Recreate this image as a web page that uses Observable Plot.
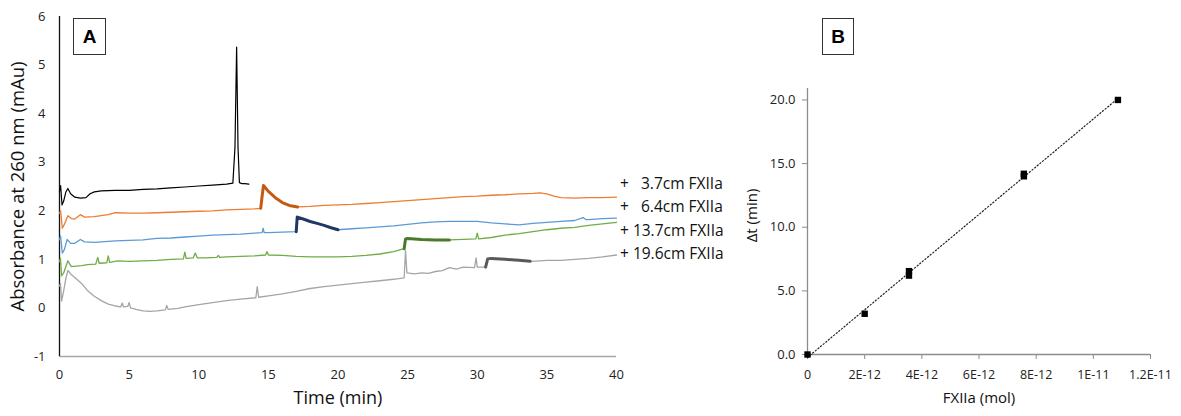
<!DOCTYPE html>
<html>
<head>
<meta charset="utf-8">
<script src="https://cdn.jsdelivr.net/npm/d3@7"></script>
<script src="https://cdn.jsdelivr.net/npm/@observablehq/plot@0.6"></script>
<style>
  html, body { margin: 0; padding: 0; background: #fff; }
  #wrap { position: relative; width: 1181px; height: 416px; font-family: "Open Sans", sans-serif; }
  #panelA { position: absolute; left: 0; top: 0; }
  #panelB { position: absolute; left: 740px; top: 0; }
  .tag { position: absolute; border: 1px solid #333; background: #fff; font-family: "Liberation Sans", Arial, sans-serif; font-weight: bold; font-size: 19px; display: flex; align-items: center; justify-content: center; box-sizing: border-box; }
  #legendA { position: absolute; left: 620px; top: 172px; font-size: 15.5px; line-height: 23.4px; white-space: pre; color: #111; }
</style>
</head>
<body>
<div id="wrap">
  <div id="panelA"></div>
  <div id="panelB"></div>
  <div class="tag" style="left:73px;top:18px;width:33px;height:37px;">A</div>
  <div class="tag" style="left:822px;top:18px;width:32px;height:37px;">B</div>
  <div id="legendA"></div>
</div>
<script>
// ---------- Panel A data: chromatogram traces [time (min), absorbance (mAu)] ----------
const traceBlack = [[0,2.40],[0.08,2.52],[0.18,2.12],[0.3,2.2],[0.45,2.38],[0.6,2.46],[0.8,2.35],[1.1,2.28],[1.5,2.26],[1.9,2.27],[2.2,2.35],[2.5,2.39],[3,2.41],[4,2.42],[5,2.42],[6,2.44],[7,2.45],[8,2.47],[9,2.49],[10,2.51],[11,2.53],[12,2.55],[12.45,2.57],[12.6,3.3],[12.72,5.37],[12.82,3.3],[12.92,2.58],[13.1,2.56],[13.3,2.56],[13.6,2.55]];
const traceOrange = [[0,1.95],[0.08,2.0],[0.2,1.64],[0.35,1.72],[0.6,1.90],[0.85,1.84],[1.1,1.83],[1.5,1.92],[1.8,1.87],[2.5,1.88],[3.5,1.92],[4,1.96],[5,1.95],[6,1.95],[7,1.96],[8,1.97],[9,1.98],[10,1.99],[11,2.00],[12,2.02],[13,2.03],[14,2.04],[14.45,2.05],[14.55,2.3],[14.65,2.52],[15,2.40],[15.5,2.27],[16,2.17],[16.5,2.11],[17.1,2.08],[18,2.09],[19,2.11],[20,2.12],[21,2.13],[22,2.15],[23,2.17],[24,2.19],[25,2.21],[26,2.23],[27,2.25],[28,2.27],[29,2.29],[30,2.30],[31,2.32],[32,2.33],[33,2.35],[34,2.36],[34.5,2.37],[35,2.35],[35.5,2.30],[36,2.27],[37,2.26],[38,2.27],[39,2.27],[40,2.28]];
const traceBlue = [[0,1.40],[0.08,1.48],[0.2,1.13],[0.35,1.2],[0.55,1.41],[0.8,1.33],[1.1,1.33],[1.5,1.41],[1.8,1.36],[2.5,1.35],[3.5,1.37],[4,1.38],[5,1.39],[6,1.40],[7,1.43],[8,1.44],[9,1.46],[10,1.48],[11,1.50],[12,1.51],[13,1.52],[14,1.54],[14.55,1.55],[14.62,1.64],[14.7,1.55],[15,1.55],[16,1.56],[17.0,1.57],[17.07,1.87],[17.5,1.83],[18,1.78],[18.5,1.74],[19,1.70],[19.5,1.65],[20,1.61],[20.5,1.62],[21,1.63],[22,1.65],[23,1.67],[24,1.69],[25,1.72],[26,1.75],[27,1.77],[28,1.78],[29,1.78],[30,1.78],[31,1.75],[32,1.73],[33,1.71],[34,1.74],[35,1.76],[36,1.78],[37,1.80],[37.6,1.86],[37.8,1.82],[38,1.82],[39,1.84],[40,1.85]];
const traceGreen = [[0,0.95],[0.07,1.02],[0.15,0.66],[0.3,0.72],[0.6,0.97],[0.85,0.85],[1.2,0.86],[1.6,0.87],[2.0,0.89],[2.6,0.90],[2.75,1.04],[2.85,0.92],[3.4,0.93],[3.5,1.07],[3.6,0.94],[4.2,0.97],[5,0.96],[6,0.97],[7,0.98],[8,1.00],[8.9,1.01],[9.0,1.15],[9.1,1.02],[9.6,1.03],[9.75,1.13],[9.9,1.03],[10.5,1.03],[11.3,1.04],[11.4,1.08],[11.5,1.04],[12,1.05],[13,1.06],[14,1.07],[14.8,1.09],[14.9,1.16],[15.0,1.09],[16,1.08],[17,1.06],[18,1.05],[19,1.05],[20,1.05],[21,1.06],[22,1.08],[23,1.11],[24,1.16],[24.75,1.22],[24.85,1.42],[25,1.43],[26,1.41],[27,1.40],[28,1.40],[29,1.41],[29.9,1.42],[30.0,1.54],[30.1,1.42],[31,1.45],[32,1.50],[33,1.53],[34,1.57],[35,1.61],[36,1.64],[37,1.66],[38,1.70],[39,1.73],[40,1.76]];
const traceGray = [[0,0.45],[0.07,0.50],[0.15,0.14],[0.3,0.35],[0.45,0.60],[0.6,0.77],[0.8,0.70],[1.2,0.60],[1.6,0.50],[2.0,0.36],[2.5,0.24],[3.0,0.15],[3.5,0.08],[4.0,0.04],[4.4,0.02],[4.5,0.10],[4.6,0.02],[4.9,0.03],[5.0,0.11],[5.1,0.0],[5.5,-0.03],[6,-0.06],[6.5,-0.07],[7,-0.06],[7.6,-0.04],[7.7,0.05],[7.8,-0.03],[8.5,-0.01],[9,0.02],[10,0.07],[11,0.11],[12,0.15],[13,0.18],[14.1,0.21],[14.2,0.44],[14.3,0.22],[15,0.25],[16,0.29],[17,0.34],[18,0.40],[19,0.44],[20,0.47],[21,0.50],[22,0.53],[23,0.56],[24,0.59],[24.75,0.62],[24.85,1.18],[24.95,0.72],[25.5,0.70],[26,0.72],[26.5,0.71],[27,0.75],[27.5,0.77],[28,0.83],[28.5,0.80],[29,0.84],[29.8,0.83],[29.92,1.03],[30.0,0.84],[30.6,0.84],[30.75,1.01],[31,1.02],[32,1.00],[33,0.98],[33.8,0.96],[34.5,0.97],[35,0.98],[36,0.98],[37,1.00],[38,1.02],[39,1.05],[40,1.09]];
// highlighted (thick) product windows [start, end] in min
const highlightOrange = [14.45, 17.1];
const highlightBlue = [17.0, 20.0];
const highlightGreen = [24.75, 28.0];
const highlightGray = [30.6, 33.8];
const seriesLabels = ["+   3.7cm FXIIa", "+   6.4cm FXIIa", "+ 13.7cm FXIIa", "+ 19.6cm FXIIa"];
const xTicksA = [0, 5, 10, 15, 20, 25, 30, 35, 40];
const yTicksA = [-1, 0, 1, 2, 3, 4, 5, 6];

// ---------- Panel B data ----------
const fxiiaMol = [0, 2.0e-12, 3.55e-12, 3.55e-12, 7.57e-12, 7.57e-12, 1.086e-11];
const deltaT = [0, 3.2, 6.2, 6.55, 14.0, 14.2, 20.0];
const xTicksB = [0, 2e-12, 4e-12, 6e-12, 8e-12, 1e-11, 1.2e-11];
const xTickLabelsB = ["0", "2E-12", "4E-12", "6E-12", "8E-12", "1E-11", "1.2E-11"];
const yTicksB = [0, 5, 10, 15, 20];

const X = d => d[0], Y = d => d[1];
const within = (arr, r) => arr.filter(d => d[0] >= r[0] && d[0] <= r[1]);

const plotA = Plot.plot({
  width: 740, height: 416,
  marginLeft: 59, marginRight: 124, marginTop: 16, marginBottom: 60,
  x: {domain: [0, 40]},
  y: {domain: [-1, 6]},
  style: {fontFamily: "Open Sans, sans-serif", color: "#222", background: "transparent"},
  marks: [
    Plot.axisY(yTicksA, {tickSize: 0, tickPadding: 14, label: null, fontSize: 13, tickFormat: d => String(d)}),
    Plot.axisX(xTicksA, {tickSize: 0, tickPadding: 13, label: null, fontSize: 13, tickFormat: d => String(d)}),
    Plot.ruleY([-1], {stroke: "#a6a6a6", strokeWidth: 1.3}),
    Plot.ruleX([0], {stroke: "#111", strokeWidth: 1.3}),
    Plot.line(traceGray, {x: X, y: Y, stroke: "#a5a5a5", strokeWidth: 1.3}),
    Plot.line(traceGreen, {x: X, y: Y, stroke: "#70ad47", strokeWidth: 1.3}),
    Plot.line(traceBlue, {x: X, y: Y, stroke: "#5b9bd5", strokeWidth: 1.3}),
    Plot.line(traceOrange, {x: X, y: Y, stroke: "#ed7d31", strokeWidth: 1.3}),
    Plot.line(traceBlack, {x: X, y: Y, stroke: "#000", strokeWidth: 1.2}),
    Plot.line(within(traceOrange, highlightOrange), {x: X, y: Y, stroke: "#c55a11", strokeWidth: 3}),
    Plot.line(within(traceBlue, highlightBlue), {x: X, y: Y, stroke: "#203864", strokeWidth: 3}),
    Plot.line(within(traceGreen, highlightGreen), {x: X, y: Y, stroke: "#4a7a2c", strokeWidth: 3}),
    Plot.line(within(traceGray, highlightGray), {x: X, y: Y, stroke: "#595959", strokeWidth: 3}),
    Plot.text(["Absorbance at 260 nm (mAu)"], {frameAnchor: "left", textAnchor: "middle", rotate: -90, dx: -41, fontSize: 18.5, fill: "#111"}),
    Plot.text(["Time (min)"], {frameAnchor: "bottom", dy: 47, fontSize: 18, fill: "#111"})
  ]
});
document.getElementById("panelA").appendChild(plotA);
document.getElementById("legendA").textContent = seriesLabels.join("\n");

const ptsB = fxiiaMol.map((x, i) => ({x, y: deltaT[i]}));
const plotB = Plot.plot({
  width: 441, height: 416,
  marginLeft: 67, marginRight: 31, marginTop: 88, marginBottom: 62,
  x: {domain: [0, 1.2e-11]},
  y: {domain: [0, 20.9]},
  style: {fontFamily: "Open Sans, sans-serif", color: "#222", background: "transparent"},
  marks: [
    Plot.axisY(yTicksB, {tickSize: 5, tickPadding: 7, stroke: "#8c8c8c", tickFormat: d => d.toFixed(1), label: null, fontSize: 13}),
    Plot.axisX(xTicksB, {tickSize: 5, tickPadding: 11, stroke: "#8c8c8c", tickFormat: d => xTickLabelsB[xTicksB.indexOf(d)], label: null, fontSize: 12.5}),
    Plot.ruleX([0], {stroke: "#8c8c8c", strokeWidth: 1.3}),
    Plot.ruleY([0], {stroke: "#8c8c8c", strokeWidth: 1.3}),
    Plot.linearRegressionY(ptsB, {x: "x", y: "y", ci: 0, stroke: "#222", strokeWidth: 1.2, strokeDasharray: "1.2,2.2"}),
    Plot.dot(ptsB, {x: "x", y: "y", symbol: "square", r: 3.6, fill: "#000", stroke: "none"}),
    Plot.text(["Δt (min)"], {frameAnchor: "left", textAnchor: "middle", rotate: -90, dx: -55, dy: -6, fontSize: 15, fill: "#111"}),
    Plot.text(["FXIIa (mol)"], {frameAnchor: "bottom", dy: 48, fontSize: 15, fill: "#111"})
  ]
});
document.getElementById("panelB").appendChild(plotB);
</script>
</body>
</html>
